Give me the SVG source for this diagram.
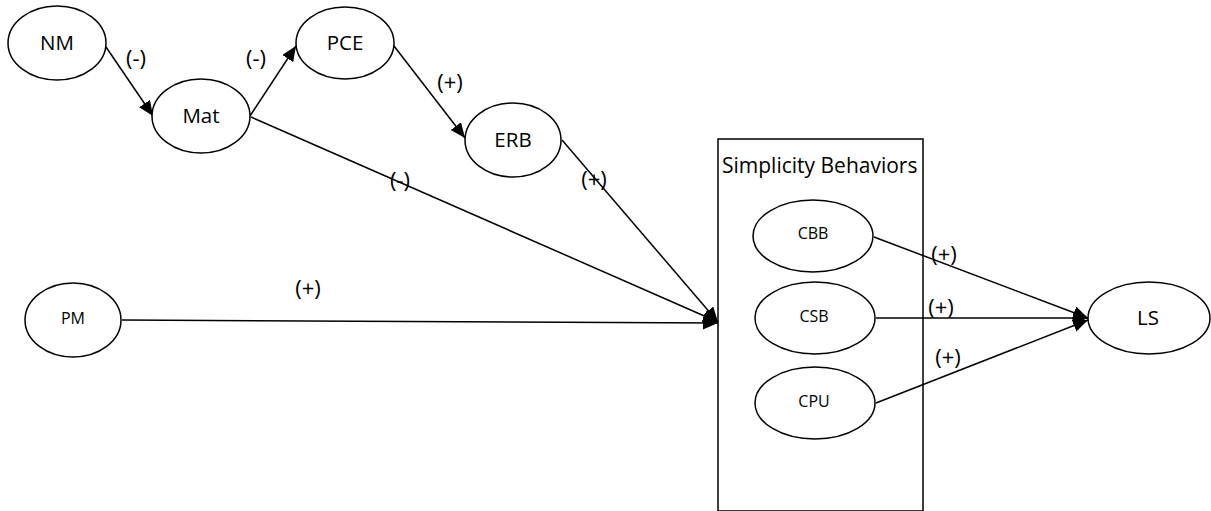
<svg xmlns="http://www.w3.org/2000/svg" width="1211" height="511" viewBox="0 0 1211 511">
<style>
.n ellipse{fill:#fff;stroke:#000;stroke-width:1.5}
.t{font-family:"Open Sans","Liberation Sans",sans-serif;fill:#000;text-anchor:middle}
.big{font-size:20.5px}
.sm{font-size:16px}
.lbl{font-family:"Open Sans","Liberation Sans",sans-serif;font-size:22px;fill:#000;text-anchor:middle}
#connectors line{stroke:#000;stroke-width:1.5;marker-end:url(#ah)}
</style>
<defs>
<marker id="ah" markerUnits="userSpaceOnUse" markerWidth="16" markerHeight="14" refX="15" refY="6.5" orient="auto">
<path d="M0,0 L15,6.5 L0,13 z" fill="#000"/>
</marker>
</defs>
<rect width="1211" height="511" fill="#fff"/>
<g id="box">
<rect x="718" y="139" width="205" height="372" fill="#fff" stroke="#000" stroke-width="1.5"/>
<text x="722" y="173" font-family="Open Sans, Liberation Sans, sans-serif" font-size="21" fill="#000">Simplicity Behaviors</text>
</g>
<g id="connectors">
<line x1="106" y1="47" x2="153" y2="116"/>
<line x1="250" y1="116" x2="296" y2="46"/>
<line x1="394" y1="46" x2="465" y2="138"/>
<line x1="251" y1="117" x2="718" y2="322"/>
<line x1="562" y1="140" x2="718" y2="322"/>
<line x1="122" y1="320" x2="718" y2="323"/>
<line x1="874" y1="237" x2="1088" y2="318"/>
<line x1="876" y1="318" x2="1088" y2="318"/>
<line x1="876" y1="403" x2="1088" y2="320"/>
</g>
<g id="labels">
<text class="lbl" x="136" y="66">(-)</text>
<text class="lbl" x="256" y="66">(-)</text>
<text class="lbl" x="450" y="90">(+)</text>
<text class="lbl" x="400" y="188">(-)</text>
<text class="lbl" x="594" y="187">(+)</text>
<text class="lbl" x="308" y="296">(+)</text>
<text class="lbl" x="944" y="262">(+)</text>
<text class="lbl" x="941" y="315">(+)</text>
<text class="lbl" x="948" y="365">(+)</text>
</g>
<g id="NM" class="n"><ellipse cx="57" cy="43" rx="49" ry="37"/><text class="t big" x="57" y="50">NM</text></g>
<g id="Mat" class="n"><ellipse cx="201" cy="116" rx="49" ry="37"/><text class="t big" x="201" y="123">Mat</text></g>
<g id="PCE" class="n"><ellipse cx="345" cy="43" rx="49" ry="36"/><text class="t big" x="345" y="50">PCE</text></g>
<g id="ERB" class="n"><ellipse cx="513" cy="140" rx="48" ry="37"/><text class="t big" x="513" y="147">ERB</text></g>
<g id="PM" class="n"><ellipse cx="73" cy="320" rx="48" ry="37"/><text class="t sm" x="73" y="324">PM</text></g>
<g id="CBB" class="n"><ellipse cx="813" cy="236" rx="60" ry="36"/><text class="t sm" x="813" y="239">CBB</text></g>
<g id="CSB" class="n"><ellipse cx="815" cy="318" rx="60" ry="36"/><text class="t sm" x="814" y="322">CSB</text></g>
<g id="CPU" class="n"><ellipse cx="815" cy="403" rx="60" ry="36"/><text class="t sm" x="814" y="407">CPU</text></g>
<g id="LS" class="n"><ellipse cx="1149" cy="318" rx="61" ry="36"/><text class="t big" x="1148" y="325">LS</text></g>
</svg>
